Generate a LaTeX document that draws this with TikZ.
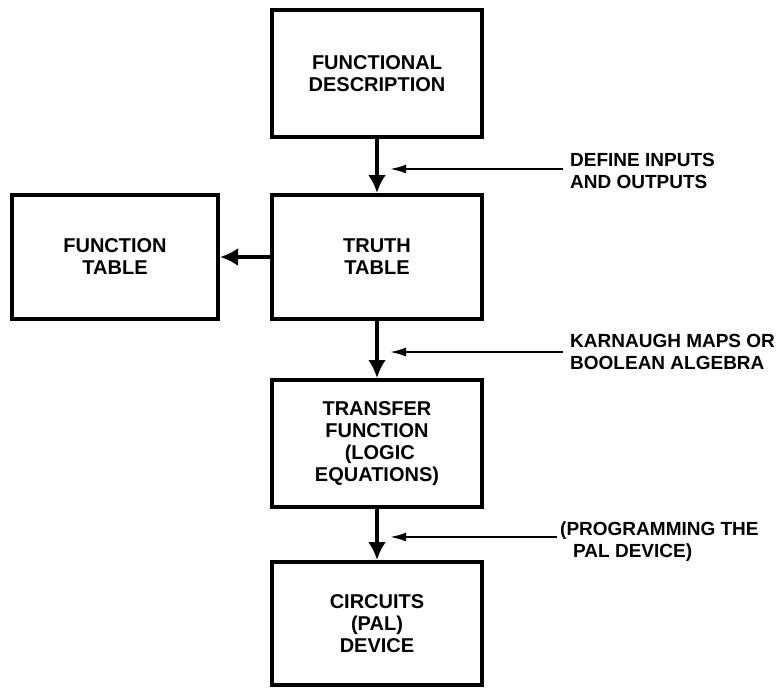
\documentclass[tikz,border=0pt]{standalone}
\usepackage{fontspec}
\setmainfont{Liberation Sans}
\usetikzlibrary{arrows.meta}
\begin{document}
\begin{tikzpicture}[x=1pt,y=-1pt,
  stagebox/.style={draw=black,line width=4pt,rectangle,inner sep=0pt,
    minimum width=210pt,align=center,
    font=\bfseries\fontsize{20}{22}\selectfont},
  flow/.style={line width=4pt,-{Latex[length=18pt,width=18pt]}},
  hint/.style={line width=2pt,-{Latex[length=16pt,width=9pt]}},
  note/.style={anchor=west,align=left,inner sep=0pt,
    font=\bfseries\fontsize{19}{22}\selectfont}]
  \fill[white] (0,0) rectangle (782,689);
  \useasboundingbox (0,0) rectangle (782,689);

  % main chain of stages
  \node[stagebox,minimum height=127pt] (fd) at (377,73.5) {FUNCTIONAL\\DESCRIPTION};
  \node[stagebox,minimum height=124pt] (tt) at (377,257) {TRUTH\\TABLE};
  \node[stagebox,minimum height=124pt,minimum width=206pt] (ft) at (115,257) {FUNCTION\\TABLE};
  \node[stagebox,minimum height=127pt] (tf) at (377,443.5) {TRANSFER\\FUNCTION\\\ (LOGIC\\EQUATIONS)};
  \node[stagebox,minimum height=123pt] (ci) at (377,623.5) {CIRCUITS\\(PAL)\\DEVICE};

  % flow between stages
  \draw[flow] (fd.south) -- (tt.north);
  \draw[flow] (tt.west) -- (ft.east);
  \draw[flow] (tt.south) -- (tf.north);
  \draw[flow] (tf.south) -- (ci.north);

  % annotations with pointer arrows
  \coordinate (h1s) at (563,169);
  \coordinate (h1e) at (390,169);
  \coordinate (h2s) at (563,352);
  \coordinate (h2e) at (390,352);
  \coordinate (h3s) at (557,537);
  \coordinate (h3e) at (390,537);
  \draw[hint] (h1s) -- (h1e);
  \draw[hint] (h2s) -- (h2e);
  \draw[hint] (h3s) -- (h3e);

  \node[note] (n1) at (570,171) {DEFINE INPUTS\\AND OUTPUTS};
  \node[note] (n2) at (570,352) {KARNAUGH MAPS OR\\BOOLEAN ALGEBRA};
  \node[note] (n3) at (560,542) {(PROGRAMMING THE\\\hspace*{13pt}PAL DEVICE)};
\end{tikzpicture}
\end{document}
